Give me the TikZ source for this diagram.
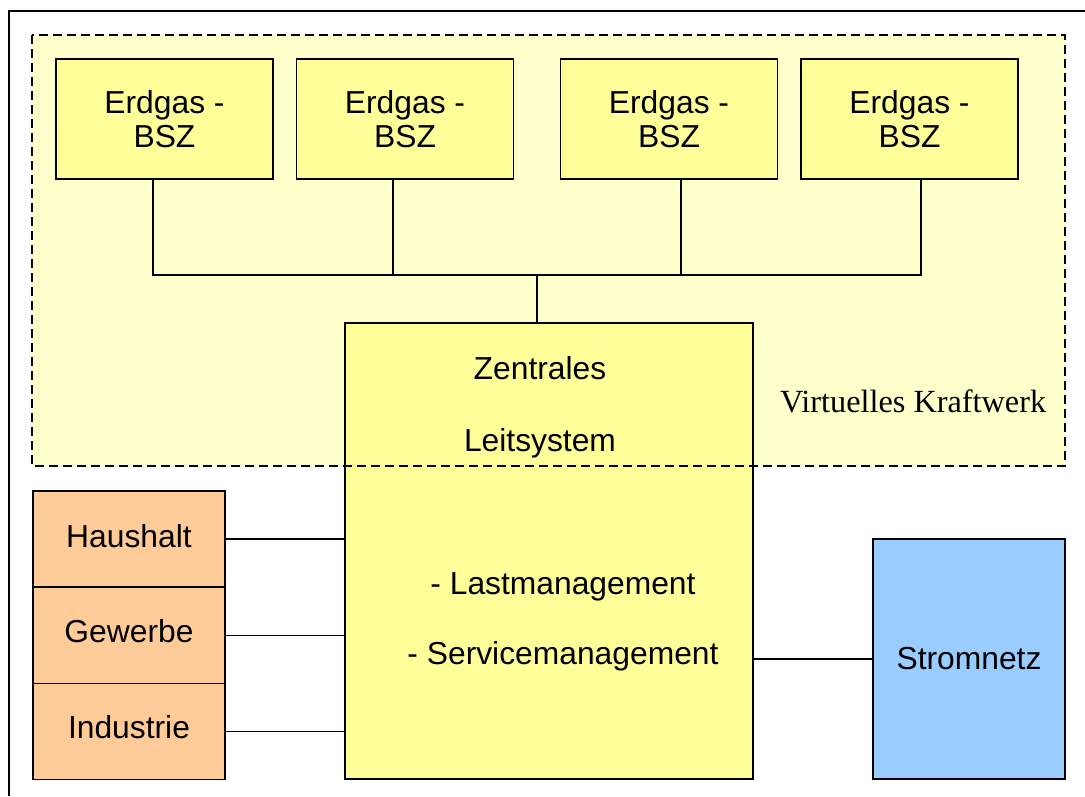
\documentclass[tikz,border=0pt]{standalone}
\usepackage{fontspec}
\setmainfont{Liberation Sans}
\newfontfamily\timesfont{Liberation Serif}
\definecolor{vkfill}{HTML}{FFFFCC}
\definecolor{boxyellow}{HTML}{FFFF99}
\definecolor{boxorange}{HTML}{FFCC99}
\definecolor{boxblue}{HTML}{99CCFF}
\begin{document}
\begin{tikzpicture}[x=1pt,y=-1pt,
  every node/.style={inner sep=0pt,outer sep=0pt},
  ln/.style={line width=1.8pt,draw=black},
  txt/.style={font=\fontsize{31.8}{34}\selectfont},
  box/.style={ln,rectangle,txt,align=center},
  gasbox/.style={box,fill=boxyellow,minimum width=217pt,minimum height=120pt},
  sidebox/.style={box,fill=boxorange,minimum width=192pt,minimum height=96pt},
  conn/.style={line width=1.7pt},
  vkdash/.style={line width=1.8pt,dash pattern=on 9pt off 5pt}
]
\useasboundingbox (0,0) rectangle (1085,796);
\fill[white] (0,0) rectangle (1085,796);
% outer frame
\draw[line width=1.8pt] (9,796) -- (9,11) -- (1085,11);
% virtual power plant area
\node[fill=vkfill,minimum width=1033pt,minimum height=431pt] (vk) at (548.5,250.5) {};
% gas boxes
\node[gasbox] (e1) at (164.5,119) {Erdgas -\\BSZ};
\node[gasbox] (e2) at (405,119) {Erdgas -\\BSZ};
\node[gasbox] (e3) at (669,119) {Erdgas -\\BSZ};
\node[gasbox] (e4) at (909.5,119) {Erdgas -\\BSZ};
% central system
\node[ln,fill=boxyellow,minimum width=408pt,minimum height=456pt] (zl) at (549,551) {};
\node[txt,anchor=base] (t1) at (540,379) {Zentrales};
\node[txt,anchor=base] (t2) at (540,451) {Leitsystem};
\node[txt,anchor=base] (t3) at (563,594) {- Lastmanagement};
\node[txt,anchor=base] (t4) at (563,664) {- Servicemanagement};
% dashed border on top
\draw[vkdash] (vk.north west) rectangle (vk.south east);
\node[font=\timesfont\fontsize{32.3}{34}\selectfont,anchor=base west] (vkl) at (780,412) {Virtuelles Kraftwerk};
% consumers
\node[sidebox] (h) at (129,539) {\raisebox{7pt}{Haushalt}};
\node[sidebox] (g) at (129,635.5) {\raisebox{9pt}{Gewerbe}};
\node[sidebox] (i) at (129,731.5) {\raisebox{9pt}{Industrie}};
% grid
\node[box,fill=boxblue,minimum width=192pt,minimum height=240pt] (s) at (969,659) {Stromnetz};
% connectors
\coordinate (bus) at (537,275);
\draw[conn] (e1.south -| 153,0) |- (bus);
\draw[conn] (e2.south -| 393,0) |- (bus);
\draw[conn] (e3.south -| 681,0) |- (bus);
\draw[conn] (e4.south -| 921,0) |- (bus);
\draw[conn] (bus) -- (bus |- zl.north);
\draw[conn] (h.east) -- (h.east -| zl.west);
\draw[conn] (g.east) -- (g.east -| zl.west);
\draw[conn] (i.east) -- (i.east -| zl.west);
\draw[conn] (zl.east |- s.west) -- (s.west);
\end{tikzpicture}
\end{document}
